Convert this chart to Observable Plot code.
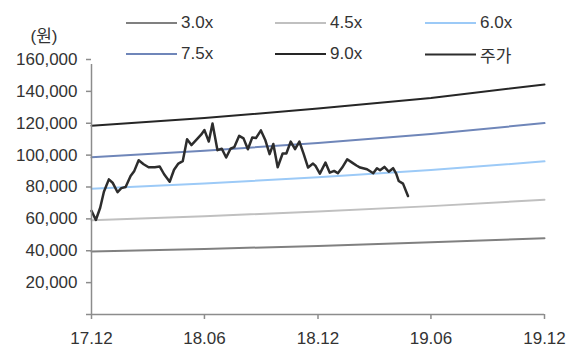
<!DOCTYPE html>
<html>
<head>
<meta charset="utf-8">
<script src="https://cdn.jsdelivr.net/npm/d3@7"></script>
<script src="https://cdn.jsdelivr.net/npm/@observablehq/plot@0.6"></script>
<style>
  html, body { margin: 0; padding: 0; background: #fff; }
  #wrap { position: relative; width: 574px; height: 347px; font-family: "Liberation Sans", Arial, "Noto Sans CJK KR", sans-serif; color: #333; }
  #wrap svg { position: absolute; left: 0; top: 0; }
  .unit { position: absolute; left: 44px; top: 34px; transform: translate(-50%, -50%); font-size: 17px; font-family: "Liberation Sans", "Noto Sans CJK KR", sans-serif; }
  .key { position: absolute; display: flex; align-items: center; transform: translateY(-50%); font-size: 17px; font-family: "Liberation Sans", "Noto Sans CJK KR", sans-serif; white-space: nowrap; }
  .key .swatch { width: 51px; height: 0; border-top: 2.5px solid; margin-right: 4px; }
</style>
</head>
<body>
<div id="wrap"></div>
<script>
// PER band dates (every six months) and band prices, in won
const bandDates = ["2017-12-01", "2018-06-01", "2018-12-01", "2019-06-01", "2019-12-01"];
const band30 = [39500, 41100, 43000, 45300, 47800];
const band45 = [59200, 61700, 64600, 68000, 72000];
const band60 = [78900, 82200, 86100, 90600, 96100];
const band75 = [98600, 102800, 107600, 113300, 120100];
const band90 = [118400, 123300, 129200, 135900, 144300];

const bandNames = ["3.0x", "4.5x", "6.0x", "7.5x", "9.0x"];
const bandColors = ["#808080", "#c0c0c0", "#9ccaf7", "#6f86b9", "#262626"];

// Weekly share price (주가), in won
const priceDates = [
  "2017-12-01", "2017-12-08", "2017-12-15", "2017-12-21", "2017-12-29",
  "2018-01-04", "2018-01-12", "2018-01-18", "2018-01-25", "2018-02-02",
  "2018-02-08", "2018-02-15", "2018-02-23", "2018-03-03", "2018-03-13",
  "2018-03-21", "2018-03-28", "2018-04-06", "2018-04-13", "2018-04-20",
  "2018-04-27", "2018-05-04", "2018-05-11", "2018-05-20", "2018-05-27",
  "2018-06-01", "2018-06-08", "2018-06-14", "2018-06-22", "2018-06-29",
  "2018-07-06", "2018-07-13", "2018-07-19", "2018-07-27", "2018-08-03",
  "2018-08-10", "2018-08-17", "2018-08-23", "2018-08-31", "2018-09-07",
  "2018-09-14", "2018-09-20", "2018-09-27", "2018-10-05", "2018-10-11",
  "2018-10-18", "2018-10-25", "2018-11-01", "2018-11-08", "2018-11-15",
  "2018-11-23", "2018-11-27", "2018-12-04", "2018-12-13", "2018-12-20",
  "2018-12-27", "2019-01-02", "2019-01-09", "2019-01-17", "2019-01-25",
  "2019-02-01", "2019-02-07", "2019-02-18", "2019-02-28", "2019-03-06",
  "2019-03-11", "2019-03-18", "2019-03-25", "2019-04-01", "2019-04-06",
  "2019-04-10", "2019-04-17", "2019-04-25"
];
const priceValues = [
  65000, 59300, 67000, 77000, 84800,
  82700, 76700, 79300, 80000, 86900,
  90100, 96800, 94300, 92400, 92400,
  92800, 88000, 83300, 90800, 94700,
  96200, 110000, 106300, 110000, 113000,
  115700, 108500, 119800, 103100, 104000,
  98500, 104000, 105000, 112100, 110500,
  103700, 111000, 110700, 115500, 109500,
  100600, 107000, 92400, 101000, 101000,
  108500, 103700, 108500, 100600, 92200,
  94700, 93200, 88400, 95300, 89000,
  90100, 88600, 92200, 97400, 95300,
  93500, 92200, 91100, 88600, 91800,
  90500, 92600, 89600, 91800, 88400,
  83800, 82100, 74300
];

// Axis tick positions and labels
const xTickDates = ["2017-12-01", "2018-06-01", "2018-12-01", "2019-06-01", "2019-12-01"];
const xTickLabels = ["17.12", "18.06", "18.12", "19.06", "19.12"];
const yTicks = [0, 20000, 40000, 60000, 80000, 100000, 120000, 140000, 160000];

const parse = d3.utcParse("%Y-%m-%d");
const bandSeries = [band30, band45, band60, band75, band90];
const bands = bandSeries.flatMap((vals, i) =>
  vals.map((v, j) => ({date: parse(bandDates[j]), value: v, name: bandNames[i]}))
);
const price = priceDates.map((d, i) => ({date: parse(d), value: priceValues[i]}));
const xTicks = xTickDates.map(parse);
const xLabel = new Map(xTicks.map((d, i) => [+d, xTickLabels[i]]));
const fmt = d3.format(",");
const font = '"Liberation Sans", Arial, "Noto Sans CJK KR", sans-serif';

const chart = Plot.plot({
  width: 574,
  height: 347,
  marginLeft: 91,
  marginRight: 30,
  marginTop: 59,
  marginBottom: 33,
  style: {fontFamily: font, fontSize: "17px", color: "#333", background: "transparent"},
  x: {type: "utc", domain: [xTicks[0], xTicks[xTicks.length - 1]]},
  y: {domain: [0, 160000]},
  color: {domain: bandNames, range: bandColors},
  marks: [
    Plot.line(bands, {x: "date", y: "value", z: "name", stroke: "name", strokeWidth: 2}),
    Plot.line(price, {x: "date", y: "value", stroke: "#2d2d2d", strokeWidth: 2.5, strokeLinejoin: "round"}),
    Plot.ruleX([xTicks[0]], {y1: 0, y2: 160000, stroke: "#8c8c8c", strokeWidth: 1.5, insetBottom: -5}),
    Plot.ruleY([0], {stroke: "#8c8c8c", strokeWidth: 1.5}),
    Plot.axisY({ticks: yTicks, tickFormat: d => d === 0 ? "" : fmt(d), tickSize: 5, tickPadding: 9,
      stroke: "#8c8c8c", strokeWidth: 1.5, fill: "#333", fontSize: 17, label: null}),
    Plot.axisX({ticks: xTicks, tickFormat: d => xLabel.get(+d), tickSize: 5, tickPadding: 12,
      stroke: "#8c8c8c", strokeWidth: 1.5, fill: "#333", fontSize: 17, label: null})
  ]
});

const wrap = document.getElementById("wrap");
wrap.appendChild(chart);

// Unit label and legend
const unit = document.createElement("div");
unit.className = "unit";
unit.textContent = "(원)";
wrap.appendChild(unit);

const legendItems = [
  {label: bandNames[0], color: bandColors[0], x: 126, y: 23},
  {label: bandNames[1], color: bandColors[1], x: 275, y: 23},
  {label: bandNames[2], color: bandColors[2], x: 425, y: 23},
  {label: bandNames[3], color: bandColors[3], x: 126, y: 54},
  {label: bandNames[4], color: bandColors[4], x: 275, y: 54},
  {label: "주가", color: "#2d2d2d", x: 425, y: 54}
];
for (const item of legendItems) {
  const el = document.createElement("div");
  el.className = "key";
  el.style.left = item.x + "px";
  el.style.top = item.y + "px";
  const sw = document.createElement("span");
  sw.className = "swatch";
  sw.style.borderTopColor = item.color;
  const tx = document.createElement("span");
  tx.textContent = item.label;
  el.appendChild(sw);
  el.appendChild(tx);
  wrap.appendChild(el);
}
</script>
</body>
</html>
